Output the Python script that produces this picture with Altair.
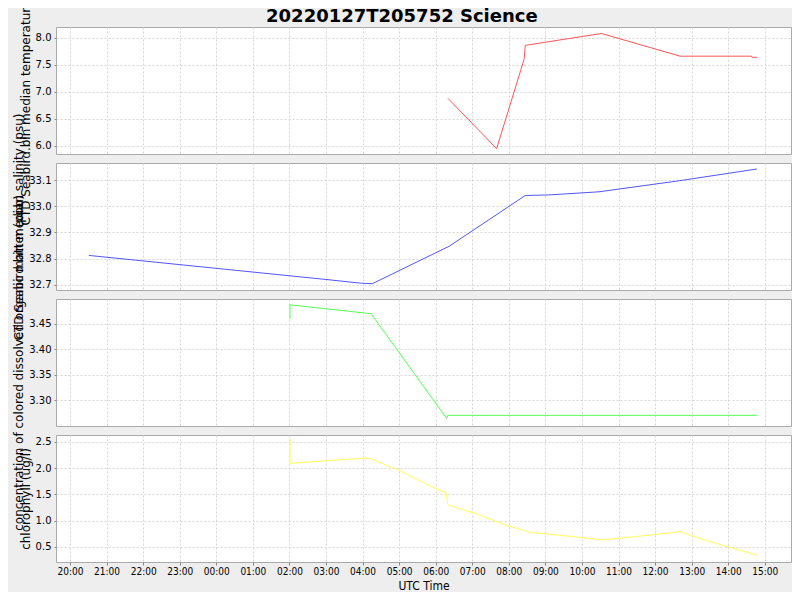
import altair as alt
import pandas as pd

# ---- data ----
temp_time = ["06:20", "07:40", "08:25", "08:27", "10:32", "12:41", "14:38", "14:39", "14:48"]
temp_val = [6.88, 5.95, 7.60, 7.86, 8.08, 7.66, 7.66, 7.64, 7.64]

sal_time = ["20:31", "03:05", "03:57", "04:16", "06:22", "08:27", "09:05", "10:28", "12:39", "14:47"]
sal_val = [32.812, 32.719, 32.706, 32.704, 32.847, 33.041, 33.043, 33.055, 33.097, 33.142]

cdom_time = ["02:01", "02:01", "04:14", "06:18", "06:20", "14:48"]
cdom_val = [3.460, 3.4875, 3.470, 3.264, 3.270, 3.270]

chl_time = ["02:01", "02:01", "02:26", "02:49", "03:13", "03:39", "04:05", "04:13", "05:01",
            "05:52", "06:17", "06:20", "07:11", "07:56", "08:36", "08:59", "10:35", "11:31",
            "12:22", "12:40", "13:24", "14:47"]
chl_val = [2.565, 2.09, 2.11, 2.13, 2.15, 2.17, 2.19, 2.18, 1.95,
           1.65, 1.53, 1.30, 1.11, 0.91, 0.77, 0.75, 0.63, 0.70,
           0.76, 0.79, 0.62, 0.34]

titles = [
    "CTD Seabird.bin median temperature (degC)",
    "CTD Seabird.bin median salinity (psu)",
    "concentration of colored dissolved organic matter (ppb)",
    "chlorophyll (ug/l)",
]
colors = ["#FF5555", "#5555FF", "#55FF55", "#FFFF55"]
y_domains = [[5.85, 8.2], [32.68, 33.165], [3.249, 3.499], [0.21, 2.63]]
y_ticks = [[6.0, 6.5, 7.0, 7.5, 8.0], [32.7, 32.8, 32.9, 33.0, 33.1],
           [3.30, 3.35, 3.40, 3.45], [0.5, 1.0, 1.5, 2.0, 2.5]]
y_formats = [".1f", ".1f", ".2f", ".1f"]
hour_ticks = [(27, h) for h in range(20, 24)] + [(28, h) for h in range(0, 16)]


def to_iso(hm):
    day = "2022-01-28" if hm < "19:00" else "2022-01-27"
    return f"{day}T{hm}:00"


def frame(times, vals):
    return pd.DataFrame({"t": [to_iso(s) for s in times], "v": vals, "i": list(range(len(vals)))})


frames = [frame(temp_time, temp_val), frame(sal_time, sal_val),
          frame(cdom_time, cdom_val), frame(chl_time, chl_val)]

x_dom = [alt.DateTime(year=2022, month=1, date=27, hours=19, minutes=37),
         alt.DateTime(year=2022, month=1, date=28, hours=15, minutes=43)]
x_vals = [alt.DateTime(year=2022, month=1, date=d, hours=h) for d, h in hour_ticks]

PW, PH = 735, 127
panels = []
for k in range(4):
    last = k == 3
    xaxis = alt.Axis(
        format="%H:%M",
        values=x_vals,
        labels=last,
        ticks=last,
        title="UTC Time" if last else "",
        grid=True, gridDash=[2, 2], gridColor="#d6d6d6",
        domain=False, tickColor="#888888", tickSize=3,
        labelFont="DejaVu Sans Condensed", labelFontSize=10, labelColor="#000000",
        labelPadding=1,
        titleFont="DejaVu Sans Condensed", titleFontSize=12, titleFontWeight="normal",
        titleColor="#000000", titlePadding=4,
    )
    yaxis = alt.Axis(
        values=y_ticks[k], format=y_formats[k], title=titles[k],
        grid=True, gridDash=[2, 2], gridColor="#d6d6d6",
        domain=False, tickColor="#888888", tickSize=2,
        labelFont="DejaVu Sans", labelFontSize=10, labelColor="#000000", labelPadding=3,
        titleFont="DejaVu Sans", titleFontSize=12, titleFontWeight="normal",
        titleColor="#000000", titlePadding=3,
    )
    c = alt.Chart(frames[k]).mark_line(color=colors[k], strokeWidth=1).encode(
        x=alt.X("t:T", scale=alt.Scale(domain=x_dom), axis=xaxis),
        y=alt.Y("v:Q", scale=alt.Scale(domain=y_domains[k], zero=False, nice=False), axis=yaxis),
        order="i:Q",
    ).properties(width=PW, height=PH)
    panels.append(c)

chart = alt.vconcat(*panels, spacing=9, bounds="flush").properties(
    title=alt.TitleParams("20220127T205752 Science", font="DejaVu Sans", fontSize=18,
                          fontWeight="bold", color="#000000", anchor="middle", frame="bounds",
                          baseline="alphabetic", offset=-84),
    padding={"left": 4, "top": -53, "right": 0, "bottom": 0},
).configure(background="#EEEEEE").configure_view(
    fill="#FFFFFF", stroke="#AAAAAA", strokeWidth=1
)

chart.save("out.html", embed_options={"renderer": "svg", "actions": False})
